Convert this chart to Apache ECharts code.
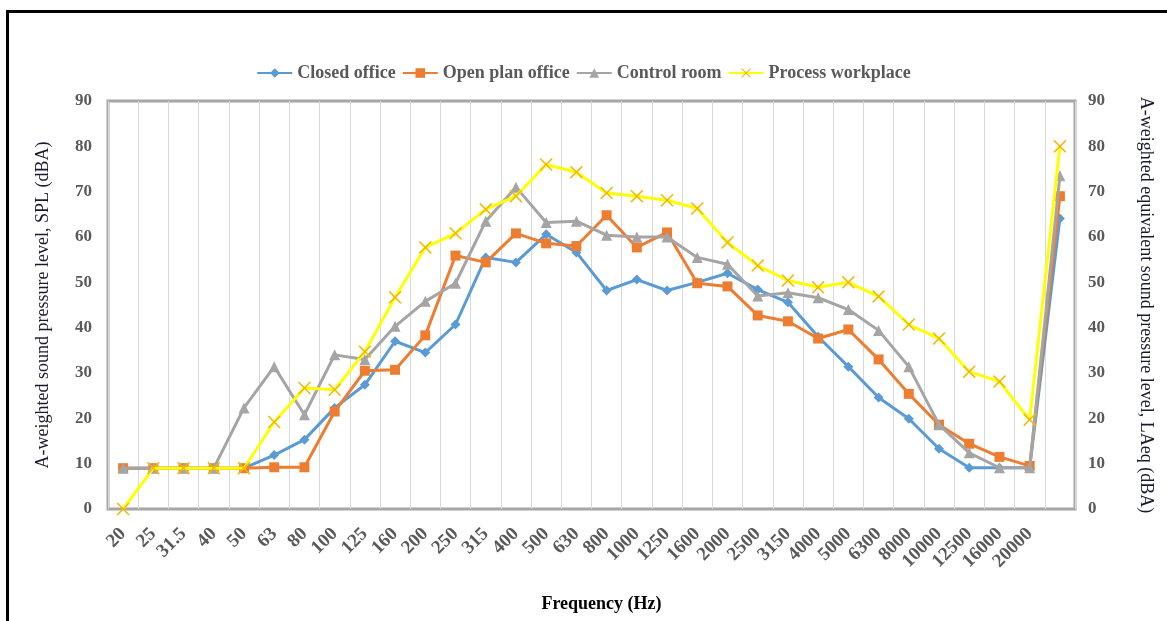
<!DOCTYPE html>
<html>
<head>
<meta charset="utf-8">
<script src="https://cdn.jsdelivr.net/npm/echarts@6/dist/echarts.min.js"></script>
<style>
html,body{margin:0;padding:0;background:#fff;}
#chart{width:1167px;height:621px;}
</style>
</head>
<body>
<div id="chart"></div>
<script>
const categories = ['20','25','31.5','40','50','63','80','100','125','160','200','250','315','400','500','630','800','1000','1250','1600','2000','2500','3150','4000','5000','6300','8000','10000','12500','16000','20000',''];
const closedOffice = [9,9,9,9,9,11.9,15.3,22.3,27.4,37,34.5,40.7,55.5,54.4,60.6,56.6,48.2,50.6,48.2,50,52,48.4,45.6,38,31.4,24.6,19.9,13.3,9.1,9.1,9.1,64.1];
const openPlanOffice = [9,9,9,9,9,9.2,9.2,21.5,30.5,30.7,38.3,55.9,54.4,60.8,58.6,58,64.8,57.7,61,49.8,49.1,42.7,41.4,37.6,39.6,33,25.4,18.6,14.4,11.5,9.5,69];
const controlRoom = [9,9,9,9,22.3,31.4,20.8,34,33,40.3,45.8,49.8,63.5,71,63.2,63.5,60.4,60,60,55.5,54,47,47.7,46.6,44,39.4,31.4,18.6,12.4,9.1,9.1,73.5];
const processWorkplace = [0,9,9,9,9,19.2,26.7,26.3,34.7,46.7,57.7,60.8,66.1,69,76,74.3,69.7,69,68.1,66.3,58.8,53.7,50.4,48.9,50,46.9,40.7,37.6,30.3,28.1,19.7,80];
const seriesNames = ['Closed office','Open plan office','Control room','Process workplace'];
const yTicks = {min:0, max:90, interval:10};

const serif = '"Liberation Serif","Times New Roman",serif';
const xSymbol = 'path://M0,1L1,0L6,5L11,0L12,1L7,6L12,11L11,12L6,7L1,12L0,11L5,6Z';

const chart = echarts.init(document.getElementById('chart'));
function yAxisCommon(){
  return {
    type:'value', min:yTicks.min, max:yTicks.max, interval:yTicks.interval,
    axisLine:{show:false}, axisTick:{show:false}, splitLine:{show:false},
    axisLabel:{color:'#595959', fontFamily:serif, fontSize:17, fontWeight:'bold'},
    nameLocation:'middle',
    nameTextStyle:{color:'#1a1a2e', fontFamily:serif, fontSize:18}
  };
}
const yLeft = Object.assign(yAxisCommon(), {
  position:'left', name:'A-weighted sound pressure level, SPL (dBA)', nameGap:56
});
yLeft.axisLabel.margin = 16;
const yRight = Object.assign(yAxisCommon(), {
  position:'right', name:'A-weighted equivalent sound pressure level, LAeq (dBA)', nameGap:62, nameRotate:-90
});
yRight.axisLabel.margin = 13;

const colors = ['#5b9bd5','#ed7d31','#a5a5a5','#ffff00'];
const symbols = ['diamond','rect','triangle', xSymbol];
const symbolSizes = [10,10,11,13];
const datasets = [closedOffice, openPlanOffice, controlRoom, processWorkplace];

chart.setOption({
  animation:false,
  backgroundColor:'#fff',
  legend:{
    top:59, left:'center', itemGap:6, itemWidth:35, itemHeight:12,
    textStyle:{color:'#595959', fontFamily:serif, fontSize:18, fontWeight:'bold'},
    data:seriesNames
  },
  grid:{left:108, right:92, top:101, bottom:112, show:true, borderColor:'#a6a6a6', borderWidth:3, containLabel:false},
  xAxis:{
    type:'category', data:categories, boundaryGap:true,
    name:'Frequency (Hz)', nameLocation:'middle', nameGap:86,
    nameTextStyle:{color:'#000', fontFamily:serif, fontSize:18, fontWeight:'bold', padding:[0,0,0,20]},
    axisLine:{show:false}, axisTick:{show:false},
    axisLabel:{interval:0, rotate:45, color:'#595959', fontFamily:serif, fontSize:19, fontWeight:'bold', margin:22},
    splitLine:{show:true, interval:0, lineStyle:{color:'#d9d9d9', width:1}}
  },
  yAxis:[yLeft, yRight],
  series: datasets.map((d,i)=>({
    name:seriesNames[i], type:'line', data:d, yAxisIndex:0,
    symbol:symbols[i], symbolSize:symbolSizes[i], showSymbol:true,
    lineStyle:{color:colors[i], width:3},
    itemStyle:{color: i===3 ? '#f5b800' : colors[i]},
    z: 2+i
  })),
  graphic:[
    {type:'rect', shape:{x:6, y:10, width:1167, height:3}, style:{fill:'#000'}, silent:true},
    {type:'rect', shape:{x:6, y:10, width:3, height:621}, style:{fill:'#000'}, silent:true}
  ]
});
</script>
</body>
</html>
